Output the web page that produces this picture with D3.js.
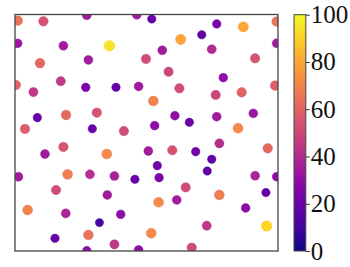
<!DOCTYPE html>
<html><head><meta charset="utf-8">
<script src="https://cdn.jsdelivr.net/npm/d3@7"></script>
<style>html,body{margin:0;padding:0;background:#fff;}svg{display:block;}</style>
</head><body>
<script>
const xs = [1.0,10.8,27.3,46.3,52.0,76.7,86.8,71.0,63.0,99.5,1.0,18.4,35.9,56.0,74.8,99.5,9.5,27.9,49.8,91.3,58.4,0.3,17.4,7.0,26.9,38.4,47.0,79.2,98.9,62.5,86.2,76.3,52.6,8.5,19.4,31.1,3.8,29.4,41.4,60.8,66.3,76.7,90.6,53.1,84.8,18.4,11.4,34.9,1.3,20.0,28.5,37.8,45.6,50.7,59.8,68.7,77.7,96.1,54.1,74.8,54.8,73.1,91.3,99.5,15.6,35.1,64.9,77.7,95.4,4.8,19.3,40.2,54.6,61.5,87.7,32.1,15.2,27.9,37.8,27.3,47.0,51.8,72.9,95.7,67.2];
const ys = [97.4,97.1,99.7,99.9,98.1,96.0,94.8,91.4,89.5,97.0,87.8,86.8,86.8,84.9,85.3,87.8,79.4,80.8,81.2,81.5,75.8,70.2,71.8,67.2,69.2,69.2,69.6,73.3,69.9,68.8,67.1,66.0,63.4,56.4,57.5,58.5,51.6,51.7,50.7,57.2,54.4,56.8,58.2,53.0,51.9,44.0,41.0,41.0,31.4,32.4,32.4,31.7,30.3,42.3,42.6,42.0,45.5,43.4,36.1,38.8,31.0,33.8,31.8,31.4,25.8,23.7,26.9,23.7,24.7,17.3,15.9,15.5,20.6,21.6,18.2,12.0,5.4,6.8,2.8,0.1,0.5,7.5,10.7,10.6,1.4];
const vals = [65,55,35,35,20,25,80,18,80,65,33,35,95,35,40,35,62,35,52,55,50,60,45,45,25,20,35,30,58,52,60,50,70,20,62,55,58,20,52,30,20,35,33,30,72,55,35,72,35,68,42,38,20,35,55,22,42,62,22,18,25,18,38,30,52,35,52,68,18,70,38,30,72,35,30,12,20,65,45,30,30,72,45,92,52];
const cbTicks = [0,20,40,60,80,100];

const W = 350, H = 267;
const plot = {l:15, r:278, t:14.5, b:251};
const svg = d3.select("body").append("svg").attr("width",W).attr("height",H);
const x = d3.scaleLinear().domain([0,100]).range([plot.l, plot.r]);
const y = d3.scaleLinear().domain([0,100]).range([plot.b, plot.t]);
const color = d3.scaleSequential(d3.interpolatePlasma).domain([0,100]);
const rad = d3.scaleLinear().domain([0,100]).range([4.0,5.4]);

const defs = svg.append("defs");
defs.append("clipPath").attr("id","clip")
  .append("rect").attr("x",plot.l).attr("y",plot.t).attr("width",plot.r-plot.l).attr("height",plot.b-plot.t);

const data = xs.map((d,i)=>({x:d,y:ys[i],v:vals[i]}));
svg.append("g").attr("clip-path","url(#clip)")
  .selectAll("circle").data(data).join("circle")
  .attr("cx",d=>x(d.x)).attr("cy",d=>y(d.y)).attr("r",d=>rad(d.v))
  .attr("fill",d=>color(d.v))
  .attr("stroke",d=>color(Math.max(0,d.v-8))).attr("stroke-opacity",0.45).attr("stroke-width",0.8);

svg.append("rect").attr("x",plot.l).attr("y",plot.t).attr("width",plot.r-plot.l).attr("height",plot.b-plot.t)
  .attr("fill","none").attr("stroke","#444").attr("stroke-width",1.3);

// colorbar
const cb = {l:294, r:305.8, t:14.7, b:251};
const grad = defs.append("linearGradient").attr("id","cbgrad")
  .attr("x1","0").attr("y1","1").attr("x2","0").attr("y2","0");
d3.range(0,1.0001,0.05).forEach(t=>{
  grad.append("stop").attr("offset",t).attr("stop-color",d3.interpolatePlasma(t));
});
svg.append("rect").attr("x",cb.l).attr("y",cb.t).attr("width",cb.r-cb.l).attr("height",cb.b-cb.t)
  .attr("fill","url(#cbgrad)").attr("stroke","#444").attr("stroke-width",1);
const cy = d3.scaleLinear().domain([0,100]).range([cb.b, cb.t]);
const axis = d3.axisRight(cy).tickValues(cbTicks).tickSize(4).tickPadding(1);
const ag = svg.append("g").attr("transform",`translate(${cb.r},0)`).call(axis);
ag.select(".domain").remove();
ag.selectAll("line").attr("stroke","#333");
ag.selectAll("text").attr("font-family","'Liberation Serif','DejaVu Serif',serif")
  .attr("font-size",25).attr("fill","#111");
</script>
</body></html>
